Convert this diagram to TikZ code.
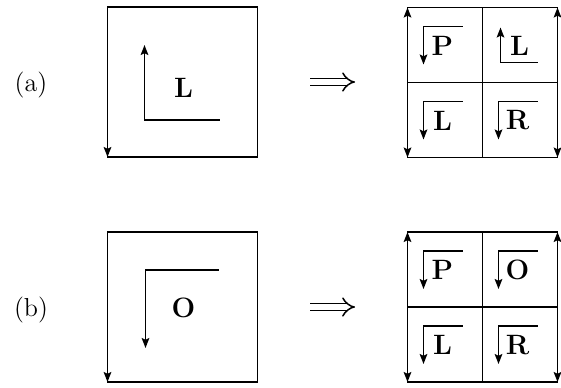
\documentclass[tikz,border=0pt]{standalone}
\usetikzlibrary{arrows.meta}
\begin{document}
\begin{tikzpicture}[x=0.5pt,y=-0.5pt,
  line width=0.9pt,
  tip/.tip={Stealth[length=5pt,width=3.8pt,inset=0.9pt]},
  arr/.style={-tip},
  dbl/.style={tip-tip},
  sq/.style={draw,rectangle,minimum width=75pt,minimum height=75pt,inner sep=0pt,outer sep=0pt},
  lab/.style={font=\fontsize{14}{16}\selectfont\bfseries,inner sep=0pt},
  tag/.style={font=\fontsize{13}{15}\selectfont,inner sep=0pt},
  impl/.style={double,double distance=2.6pt,line width=0.75pt,-{Implies}},
  pics/dcell/.style={code={
    \coordinate (-c) at (16,19);
    \coordinate (-h) at (55,19);
    \coordinate (-t) at (16,57);
    \draw[arr] (-h) -- (-c) -- (-t);
    \node[lab] (-l) at (35,38) {#1};
  }},
  pics/ucell/.style={code={
    \coordinate (-c) at (18,55);
    \coordinate (-h) at (55,55);
    \coordinate (-t) at (18,20);
    \draw[arr] (-h) -- (-c) -- (-t);
    \node[lab] (-l) at (37,38) {#1};
  }}
]
\useasboundingbox (0,0) rectangle (561,387);

% ---- (a) ----
\node[tag] (ta) at (31,85) {(a)};
\node[sq] (A) at (182.5,82) {};
\draw[arr] (A.north west) -- (A.south west);
\coordinate (Ac) at ([shift={(37,113)}]A.north west);
\coordinate (Ah) at ([shift={(112,113)}]A.north west);
\coordinate (At) at ([shift={(37,38)}]A.north west);
\draw[arr] (Ah) -- (Ac) -- (At);
\node[lab] (AL) at ([shift={(76,81)}]A.north west) {L};

\coordinate (ia1) at (310,82);
\coordinate (ia2) at (355,82);
\draw[impl] (ia1) -- (ia2);

\node[sq] (B) at (482.5,82.5) {};
\draw (B.north) -- (B.south);
\draw (B.west) -- (B.east);
\draw[dbl] (B.south west) -- (B.north west);
\draw[dbl] (B.south east) -- (B.north east);
\pic (b1) at (B.north west) {dcell=P};
\pic (b2) at (B.north) {ucell=L};
\pic (b3) at (B.west) {dcell=L};
\pic (b4) at (B.center) {dcell=R};

% ---- (b) ----
\node[tag] (tb) at (31,310) {(b)};
\node[sq] (C) at (182.5,307) {};
\draw[arr] (C.north west) -- (C.south west);
\coordinate (Cc) at ([shift={(38,38)}]C.north west);
\coordinate (Ch) at ([shift={(111,38)}]C.north west);
\coordinate (Ct) at ([shift={(38,116)}]C.north west);
\draw[arr] (Ch) -- (Cc) -- (Ct);
\node[lab] (CO) at ([shift={(76,76)}]C.north west) {O};

\coordinate (ib1) at (310,307);
\coordinate (ib2) at (355,307);
\draw[impl] (ib1) -- (ib2);

\node[sq] (D) at (482.5,307) {};
\draw (D.north) -- (D.south);
\draw (D.west) -- (D.east);
\draw[dbl] (D.south west) -- (D.north west);
\draw[dbl] (D.south east) -- (D.north east);
\pic (d1) at (D.north west) {dcell=P};
\pic (d2) at (D.north) {dcell=O};
\pic (d3) at (D.west) {dcell=L};
\pic (d4) at (D.center) {dcell=R};
\end{tikzpicture}
\end{document}
